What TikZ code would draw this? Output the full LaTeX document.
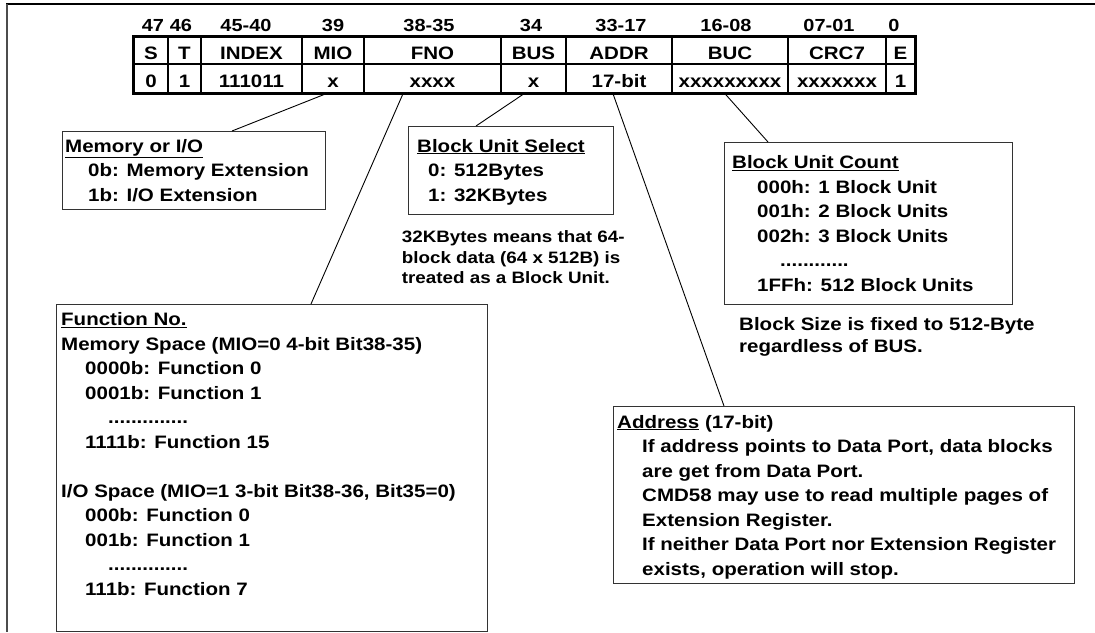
\documentclass[tikz,border=0pt]{standalone}
\usepackage{fontspec}
\setmainfont[FakeStretch=1.14]{Liberation Sans}
\usetikzlibrary{calc, positioning}

\tikzset{
  cell/.style={draw, line width=1.5pt, inner sep=0pt, text height=18.5pt, text depth=0pt,
    font=\fontsize{18}{20}\selectfont\bfseries},
  bitno/.style={anchor=base, inner sep=0pt, font=\fontsize{17.5}{20}\selectfont\bfseries},
  infobox/.style={draw=black!80, line width=1.2pt, anchor=north west, inner sep=0pt},
  infotext/.style={anchor=base west, align=left, inner sep=0pt,
    font=\fontsize{18}{24.5}\selectfont\bfseries},
  notetext/.style={anchor=base west, align=left, inner sep=0pt, font=\bfseries},
  link/.style={line width=0.9pt},
}

\begin{document}
\begin{tikzpicture}[x=1pt, y=-1pt]
\useasboundingbox (0,0) rectangle (1095,632);
% page frame
\draw[line width=2.5pt] (6,4) -- (1095,4);
\draw[line width=2pt, black!70] (7,4) -- (7,632);

% command fields
\foreach \l/\r/\nm/\bx/\bit/\fld/\val in {
    134/168/s/153/47/S/0, 168/201/t/181/46/T/1, 201/302/idx/246/45-40/INDEX/111011,
    302/364/mio/333/39/MIO/x, 364/501/fno/429/38-35/FNO/xxxx, 501/566/bus/531/34/BUS/x,
    566/672/addr/621/33-17/ADDR/17-bit, 672/788/buc/726/16-08/BUC/xxxxxxxxx,
    788/886/crc/829/07-01/CRC7/xxxxxxx, 886/915/e/894/0/E/1}{
  \node[bitno] (b\nm) at (\bx,31) {\bit};
  \node[cell, minimum width=\r-\l, minimum height=27] (f\nm) at ({(\l+\r)/2},50.5) {\fld};
  \node[cell, minimum width=\r-\l, minimum height=29] (v\nm) at ({(\l+\r)/2},78.5) {\val};
}
\draw[line width=3pt] (fs.north west) rectangle (ve.south east);

% boxes
\node[infobox, minimum width=263, minimum height=78] (mem) at (62,131) {};
\node[infobox, minimum width=205, minimum height=88] (bsel) at (408,126) {};
\node[infobox, minimum width=288, minimum height=162] (bcnt) at (724,142) {};
\node[infobox, minimum width=431, minimum height=327] (fun) at (56,304) {};
\node[infobox, minimum width=461, minimum height=177] (addr) at (613,406) {};

% texts (anchored on the baseline of their last line)
\node[infotext] (memtxt) at ([shift={(3,70)}]mem.north west)
  {\underline{Memory or I/O}\\\hspace*{23pt}0b: Memory Extension\\\hspace*{23pt}1b: I/O Extension};
\node[infotext] (bseltxt) at ([shift={(9,75)}]bsel.north west)
  {\underline{Block Unit Select}\\\hspace*{11pt}0: 512Bytes\\\hspace*{11pt}1: 32KBytes};
\node[notetext, font=\fontsize{16.5}{20.3}\selectfont\bfseries] (bselnote) at (401.7,283.3)
  {32KBytes means that 64-\\block data (64 x 512B) is\\treated as a Block Unit.};
\node[infotext] (bcnttxt) at ([shift={(8,149)}]bcnt.north west)
  {\underline{Block Unit Count}\\\hspace*{25pt}000h: 1 Block Unit\\\hspace*{25pt}001h: 2 Block Units\\
   \hspace*{25pt}002h: 3 Block Units\\\hspace*{48pt}............\\\hspace*{25pt}1FFh: 512 Block Units};
\node[notetext, font=\fontsize{18}{22.7}\selectfont\bfseries] (bcntnote) at (739,352.7)
  {Block Size is fixed to 512-Byte\\regardless of BUS.};
\node[infotext] (funtxt) at ([shift={(5,291)}]fun.north west)
  {\underline{Function No.}\\Memory Space (MIO=0 4-bit Bit38-35)\\\hspace*{24pt}0000b: Function 0\\
   \hspace*{24pt}0001b: Function 1\\\hspace*{47pt}..............\\\hspace*{24pt}1111b: Function 15\\[24.5pt]
   I/O Space (MIO=1 3-bit Bit38-36, Bit35=0)\\\hspace*{24pt}000b: Function 0\\
   \hspace*{24pt}001b: Function 1\\\hspace*{47pt}..............\\\hspace*{24pt}111b: Function 7};
\node[infotext] (addrtxt) at ([shift={(4,169)}]addr.north west)
  {\underline{Address} (17-bit)\\\hspace*{25pt}If address points to Data Port, data blocks\\
   \hspace*{25pt}are get from Data Port.\\\hspace*{25pt}CMD58 may use to read multiple pages of\\
   \hspace*{25pt}Extension Register.\\\hspace*{25pt}If neither Data Port nor Extension Register\\
   \hspace*{25pt}exists, operation will stop.};

% leaders
\draw[link] ([xshift=-7pt]vmio.south) -- ([xshift=170pt]mem.north west);
\draw[link] ([xshift=-29.5pt]vfno.south) -- ([xshift=255pt]fun.north west);
\draw[link] ([xshift=-9.5pt]vbus.south) -- ([xshift=68pt]bsel.north west);
\draw[link] ([xshift=-6pt]vaddr.south) -- ([xshift=111pt]addr.north west);
\draw[link] ([xshift=-5pt]vbuc.south) -- ([xshift=44pt]bcnt.north west);
\end{tikzpicture}
\end{document}
